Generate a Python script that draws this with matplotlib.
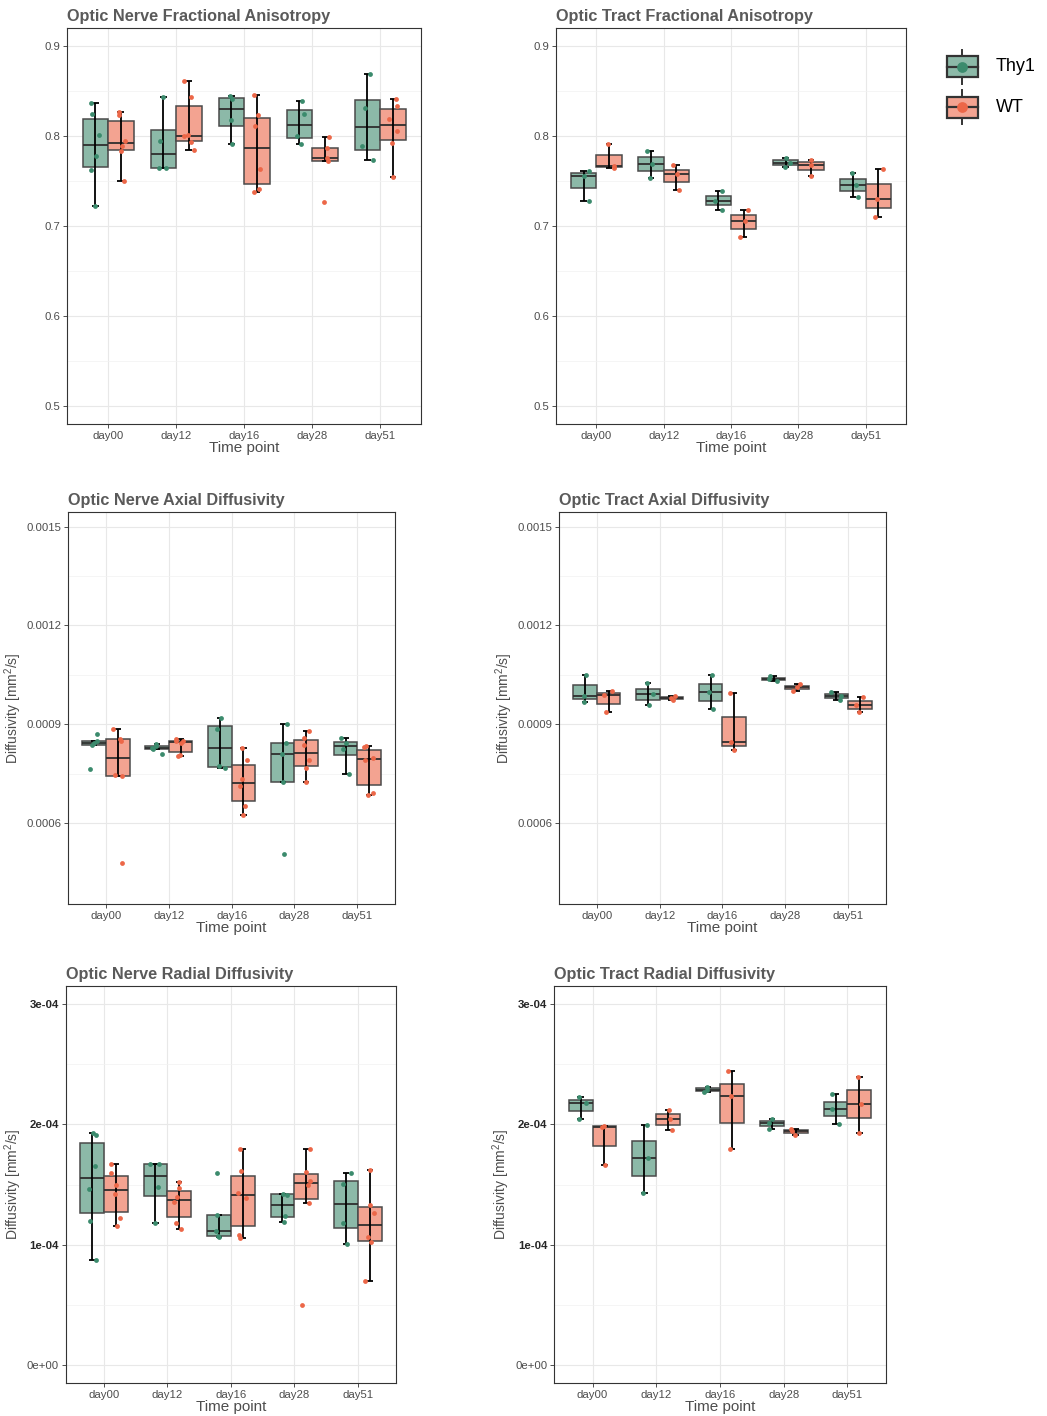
import numpy as np
import matplotlib
matplotlib.use("Agg")
import matplotlib.pyplot as plt
from matplotlib.cbook import boxplot_stats
from matplotlib.patches import Rectangle

plt.rcParams['font.family'] = ['Liberation Sans', 'DejaVu Sans']
plt.rcParams['mathtext.fontset'] = 'custom'
plt.rcParams['mathtext.rm'] = 'Liberation Sans'

days = ["day00", "day12", "day16", "day28", "day51"]
groups = ["Thy1", "WT"]

# per-animal values, one list per time point
on_fa_thy1 = [
    [0.8366, 0.8248, 0.8018, 0.7782, 0.7623, 0.7223],
    [0.8437, 0.7945, 0.7652, 0.7645],
    [0.8448, 0.8411, 0.8185, 0.7915],
    [0.8396, 0.8252, 0.8000, 0.7915],
    [0.8688, 0.8314, 0.7889, 0.7737],
]
on_fa_wt = [
    [0.8274, 0.8240, 0.7952, 0.7893, 0.7834, 0.7500],
    [0.8618, 0.8437, 0.8015, 0.8000, 0.7937, 0.7848],
    [0.8462, 0.8233, 0.8111, 0.7637, 0.7415, 0.7386],
    [0.7993, 0.7870, 0.7763, 0.7730, 0.7267],
    [0.8414, 0.8333, 0.8196, 0.8063, 0.7926, 0.7545],
]
ot_fa_thy1 = [
    [0.7616, 0.7561, 0.7284],
    [0.7838, 0.7694, 0.7539],
    [0.7387, 0.7284, 0.7181],
    [0.7760, 0.7708, 0.7660],
    [0.7594, 0.7454, 0.7321],
]
ot_fa_wt = [
    [0.7915, 0.7675, 0.7653],
    [0.7683, 0.7576, 0.7406],
    [0.7181, 0.7063, 0.6886],
    [0.7742, 0.7683, 0.7561],
    [0.7642, 0.7303, 0.7100],
]
on_ad_thy1 = [
    [0.0008695, 0.000849, 0.000843, 0.000838, 0.000763],
    [0.000841, 0.000834, 0.000829, 0.000826, 0.000811],
    [0.0009194, 0.0008867, 0.0007722, 0.000767],
    [0.000902, 0.000844, 0.000811, 0.000724, 0.000508],
    [0.000860, 0.000842, 0.000826, 0.000748],
]
on_ad_wt = [
    [0.0008857, 0.000856, 0.0008489, 0.0007455, 0.0007425, 0.000480],
    [0.000854, 0.000850, 0.000849, 0.000843, 0.000808, 0.000803],
    [0.0008274, 0.0007916, 0.0007333, 0.0007128, 0.0006515, 0.0006249],
    [0.0008785, 0.0008581, 0.0008366, 0.0007916, 0.000767, 0.0007251],
    [0.0008335, 0.0008315, 0.0007977, 0.0007906, 0.0006924, 0.0006852],
]
ot_ad_thy1 = [
    [0.0010504, 0.0009859, 0.0009685],
    [0.0010258, 0.0009910, 0.0009573],
    [0.0010504, 0.0009972, 0.0009470],
    [0.0010452, 0.0010381, 0.0010320],
    [0.0009972, 0.0009859, 0.0009736],
]
ot_ad_wt = [
    [0.0010023, 0.0009890, 0.0009368],
    [0.0009859, 0.0009788, 0.0009736],
    [0.0009951, 0.0008478, 0.0008223],
    [0.0010227, 0.0010125, 0.0010023],
    [0.0009828, 0.0009573, 0.0009378],
]
on_rd_thy1 = [
    [1.931e-4, 1.911e-4, 1.650e-4, 1.461e-4, 1.194e-4, 0.875e-4],
    [1.672e-4, 1.669e-4, 1.478e-4, 1.178e-4],
    [1.592e-4, 1.250e-4, 1.110e-4, 1.072e-4, 1.067e-4],
    [1.422e-4, 1.417e-4, 1.239e-4, 1.189e-4],
    [1.592e-4, 1.503e-4, 1.178e-4, 1.008e-4],
]
on_rd_wt = [
    [1.672e-4, 1.592e-4, 1.492e-4, 1.425e-4, 1.222e-4, 1.156e-4],
    [1.517e-4, 1.467e-4, 1.394e-4, 1.356e-4, 1.183e-4, 1.133e-4],
    [1.792e-4, 1.611e-4, 1.433e-4, 1.389e-4, 1.083e-4, 1.056e-4],
    [1.792e-4, 1.606e-4, 1.525e-4, 1.494e-4, 1.347e-4, 0.497e-4],
    [1.617e-4, 1.331e-4, 1.261e-4, 1.061e-4, 1.025e-4, 0.703e-4],
]
ot_rd_thy1 = [
    [2.225e-4, 2.178e-4, 2.042e-4],
    [1.997e-4, 1.717e-4, 1.428e-4],
    [2.311e-4, 2.286e-4, 2.264e-4],
    [2.047e-4, 2.008e-4, 1.964e-4],
    [2.247e-4, 2.128e-4, 2.006e-4],
]
ot_rd_wt = [
    [1.989e-4, 1.981e-4, 1.658e-4],
    [2.122e-4, 2.042e-4, 1.953e-4],
    [2.444e-4, 2.231e-4, 1.794e-4],
    [1.964e-4, 1.942e-4, 1.911e-4],
    [2.389e-4, 2.172e-4, 1.928e-4],
]

fa_ticks = [0.5, 0.6, 0.7, 0.8, 0.9]
fa_labels = ["0.5", "0.6", "0.7", "0.8", "0.9"]
ad_ticks = [0.0006, 0.0009, 0.0012, 0.0015]
ad_labels = ["0.0006", "0.0009", "0.0012", "0.0015"]
rd_ticks = [0.0, 1e-4, 2e-4, 3e-4]
rd_labels = ["0e+00", "1e-04", "2e-04", "3e-04"]

point_col = {"Thy1": "#3b8b6d", "WT": "#ec6748"}
fill_col = {"Thy1": "#8cb9a8", "WT": "#f3a391"}
edge_col = "#4a4a4a"
text_col = "#4d4d4d"


def draw_panel(ax, thy1, wt, title, lims, ticks, labels, ylabel=None, seed=1):
    rng = np.random.default_rng(seed)
    x = np.arange(1, len(days) + 1)
    for name, data, off in [("Thy1", thy1, -0.1875), ("WT", wt, 0.1875)]:
        pos = x + off
        stats = boxplot_stats(data, whis=1.5)
        ax.bxp(stats, positions=pos, widths=0.375, patch_artist=True,
               showfliers=False, showcaps=False,
               whiskerprops=dict(linewidth=0),
               boxprops=dict(facecolor=fill_col[name], edgecolor=edge_col,
                             linewidth=1.1),
               medianprops=dict(color="#2e2e2e", linewidth=1.3),
               zorder=2)
        lo = [s["whislo"] for s in stats]
        hi = [s["whishi"] for s in stats]
        ax.vlines(pos, lo, hi, color="black", lw=1.3, zorder=3)
        ax.hlines(lo, pos - 0.05, pos + 0.05, color="black", lw=1.3, zorder=3)
        ax.hlines(hi, pos - 0.05, pos + 0.05, color="black", lw=1.3, zorder=3)
        for p, vals in zip(pos, data):
            jx = p + rng.uniform(-0.08, 0.08, len(vals))
            ax.scatter(jx, vals, s=12, color=point_col[name], lw=0, zorder=4)

    span = ticks[-1] - ticks[0]
    ax.set_ylim(lims[0] - 0.05 * span, lims[1] + 0.05 * span)
    ax.set_xlim(0.4, len(days) + 0.6)
    ax.set_xticks(x)
    ax.set_xticklabels(days)
    ax.set_yticks(ticks)
    ax.set_yticklabels(labels)
    step = ticks[1] - ticks[0]
    minor = [t + step / 2 for t in ticks[:-1]]
    ax.set_yticks(minor, minor=True)
    ax.tick_params(axis="y", which="minor", length=0)
    ax.grid(True, which="major", color="#e8e8e8", lw=0.8, zorder=0)
    ax.grid(True, which="minor", axis="y", color="#f2f2f2", lw=0.5, zorder=0)
    ax.set_axisbelow(True)
    ax.tick_params(which="major", length=3, width=0.6, color="#333333",
                   labelsize=8.2, labelcolor=text_col, pad=2)
    for sp in ax.spines.values():
        sp.set_color("#333333")
        sp.set_linewidth(0.8)
    ax.set_xlabel("Time point", fontsize=11, color=text_col, labelpad=0)
    if ylabel:
        ax.set_ylabel(ylabel, fontsize=10, color=text_col, labelpad=2)
    ax.set_title(title, loc="left", fontsize=11.7, fontweight="bold",
                 color="#5a5a5a", pad=5)


W, H = 1047, 1416
fig = plt.figure(figsize=(W / 100, H / 100), dpi=100)


def px_axes(left, top, right, bottom):
    return fig.add_axes([left / W, 1 - bottom / H, (right - left) / W,
                         (bottom - top) / H])


ylab = "Diffusivity [mm$^2$/s]"
ax1 = px_axes(67.3, 28.3, 421, 424.3)
draw_panel(ax1, on_fa_thy1, on_fa_wt, "Optic Nerve Fractional Anisotropy",
           (0.5, 0.9), fa_ticks, fa_labels, seed=3)
ax2 = px_axes(556, 28.3, 906, 424.3)
draw_panel(ax2, ot_fa_thy1, ot_fa_wt, "Optic Tract Fractional Anisotropy",
           (0.5, 0.9), fa_ticks, fa_labels, seed=4)
ax3 = px_axes(68.3, 511.7, 395, 904)
draw_panel(ax3, on_ad_thy1, on_ad_wt, "Optic Nerve Axial Diffusivity",
           (0.0004, 0.0015), ad_ticks, ad_labels, ylabel=ylab, seed=5)
ax4 = px_axes(559.3, 511.7, 885.7, 904)
draw_panel(ax4, ot_ad_thy1, ot_ad_wt, "Optic Tract Axial Diffusivity",
           (0.0004, 0.0015), ad_ticks, ad_labels, ylabel=ylab, seed=6)
ax5 = px_axes(65.7, 985.7, 396, 1383.3)
draw_panel(ax5, on_rd_thy1, on_rd_wt, "Optic Nerve Radial Diffusivity",
           (0.0, 3e-4), rd_ticks, rd_labels, ylabel=ylab, seed=7)
ax6 = px_axes(554.3, 985.7, 885.7, 1383.3)
draw_panel(ax6, ot_rd_thy1, ot_rd_wt, "Optic Tract Radial Diffusivity",
           (0.0, 3e-4), rd_ticks, rd_labels, ylabel=ylab, seed=8)

# the exponent labels above zero print heavier
for ax in (ax5, ax6):
    for lab in ax.get_yticklabels()[1:]:
        lab.set_color("#262626")
        lab.set_fontweight("bold")

# legend keys drawn in pixel space to the right of the top panels
leg = px_axes(938, 40, 1047, 130)
leg.set_xlim(938, 1047)
leg.set_ylim(130, 40)
leg.axis("off")
for name, yc in [("Thy1", 66.5), ("WT", 107)]:
    leg.add_patch(Rectangle((947, yc - 10.5), 31, 21, facecolor=fill_col[name],
                            edgecolor="#333333", lw=1.6))
    leg.plot([962.5, 962.5], [yc - 17, yc - 10.5], color="#333333", lw=1.4)
    leg.plot([962.5, 962.5], [yc + 10.5, yc + 17], color="#333333", lw=1.4)
    leg.plot([947, 978], [yc, yc], color="#333333", lw=1.6)
    leg.scatter([962.5], [yc], s=60, color=point_col[name], lw=0, zorder=3)
    leg.text(996, yc, name, fontsize=13, va="center", ha="left", color="black")

fig.savefig("out.png", dpi=100)
